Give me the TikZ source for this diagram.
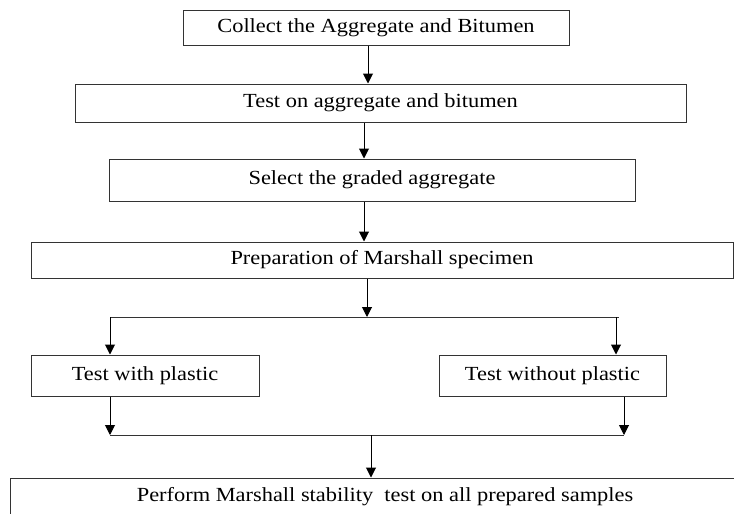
\documentclass[tikz,border=0pt]{standalone}
\usepackage{fontspec}
\setmainfont{Liberation Serif}
\usetikzlibrary{arrows.meta}
\newcommand{\wtxt}[1]{\scalebox{1.12}[1]{#1}}
\begin{document}
\begin{tikzpicture}[x=1pt,y=-1pt,
  box/.style={draw=black!80,line width=1pt,inner sep=0pt,anchor=center,
    font=\fontsize{20}{24}\selectfont},
  arr/.style={draw=black,line width=1pt,-{Triangle[width=10pt,length=10pt]}},
  ln/.style={draw=black!80,line width=1pt}]
\useasboundingbox (0,0) rectangle (734,514);
\clip (0,0) rectangle (734,514);
\node[box,minimum width=386pt,minimum height=35pt] (b1) at (376,27.5) {\wtxt{Collect the Aggregate and Bitumen}};
\node[box,minimum width=611pt,minimum height=38pt] (b2) at (380.5,103) {\wtxt{Test on aggregate and bitumen}};
\node[box,minimum width=526pt,minimum height=42pt] (b3) at (372,180) {\wtxt{Select the graded aggregate}};
\node[box,minimum width=702pt,minimum height=36pt] (b4) at (382,260) {\wtxt{Preparation of Marshall specimen}};
\node[box,minimum width=228pt,minimum height=41pt] (b5) at (145,375.5) {\wtxt{Test with plastic}};
\node[box,minimum width=227pt,minimum height=41pt] (b6) at (552.5,375.5) {\wtxt{Test without plastic}};
\node[box,minimum width=750pt,minimum height=38pt] (b7) at (385,497) {\wtxt{Perform Marshall stability\ \ test on all prepared samples}};
\coordinate (s0) at (367,317);
\coordinate (sl) at (110,317);
\coordinate (sr) at (619,317);
\coordinate (dr) at (616,317);
\coordinate (ml) at (110,435);
\coordinate (mr) at (624,435);
\coordinate (m0) at (371,435);
\draw[arr] (b1.south -| 368,0) -- (b2.north -| 368,0);
\draw[arr] (b2.south -| 364,0) -- (b3.north -| 364,0);
\draw[arr] (b3.south -| 364,0) -- (b4.north -| 364,0);
\draw[arr] (b4.south -| s0) -- (s0);
\draw[ln] (sl) -- (sr);
\draw[arr] (sl) -- (sl |- b5.north);
\draw[arr] (dr) -- (dr |- b6.north);
\draw[arr] (b5.south -| ml) -- (ml);
\draw[arr] (b6.south -| mr) -- (mr);
\draw[ln] (ml) -- (mr);
\draw[arr] (m0) -- (m0 |- b7.north);
\end{tikzpicture}
\end{document}
